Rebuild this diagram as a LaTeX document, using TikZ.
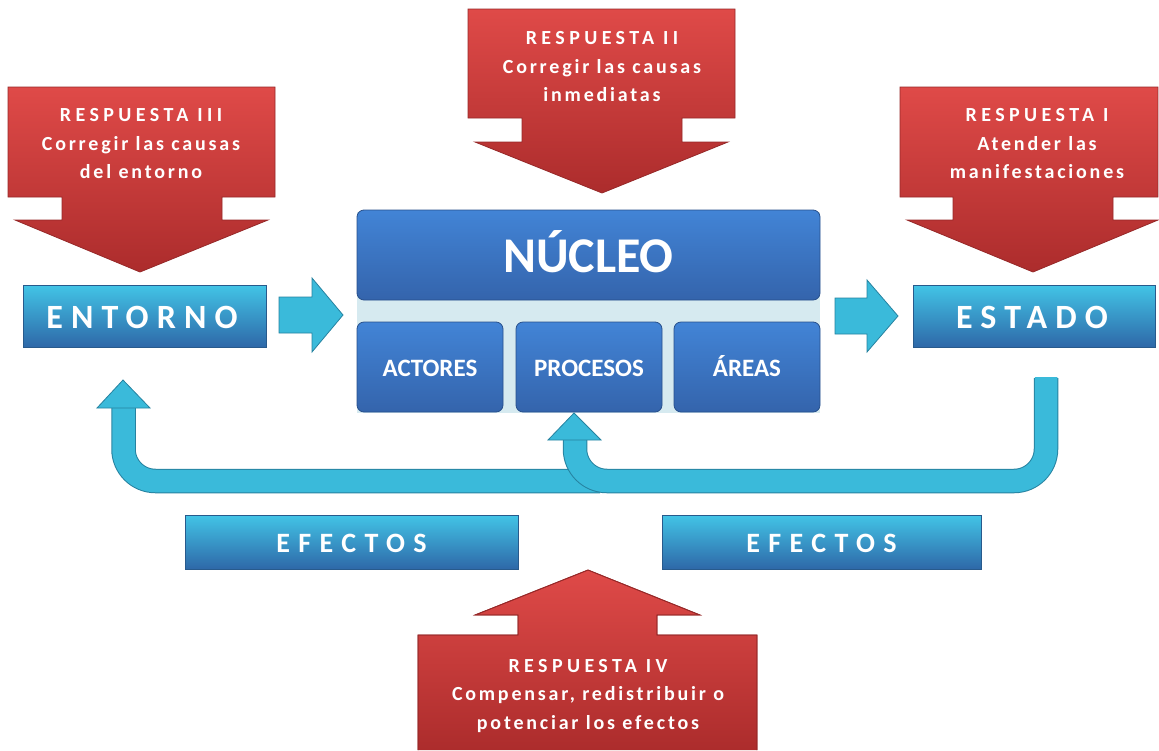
\documentclass[tikz,border=0pt]{standalone}
\usepackage{fontspec}
\setmainfont{Carlito}
\usetikzlibrary{calc}
\definecolor{redTop}{RGB}{223,74,72}
\definecolor{redBot}{RGB}{172,44,44}
\definecolor{redEdge}{RGB}{150,40,40}
\definecolor{cyTop}{RGB}{66,196,230}
\definecolor{cyBot}{RGB}{46,104,168}
\definecolor{cyEdge}{RGB}{40,90,140}
\definecolor{blTop}{RGB}{66,132,214}
\definecolor{blBot}{RGB}{52,100,172}
\definecolor{blEdge}{RGB}{40,80,140}
\definecolor{nucBg}{RGB}{214,234,240}
\definecolor{arrCy}{RGB}{58,186,218}
\definecolor{arrEdge}{RGB}{38,130,160}
\tikzset{
  callout/.style={top color=redTop, bottom color=redBot, draw=redEdge, line width=0.8pt},
  calltext/.style={text=white, font=\fontsize{20}{28.5}\selectfont\bfseries\addfontfeature{LetterSpace=14}, align=center},
  cybox/.style={top color=cyTop, bottom color=cyBot, draw=cyEdge, line width=0.8pt},
  blbox/.style={top color=blTop, bottom color=blBot, draw=blEdge, line width=0.8pt, rounded corners=7pt},
  boxtext/.style={text=white, font=\bfseries},
  blockarrow/.style={fill=arrCy, draw=arrEdge, line width=0.8pt},
  fbedge/.style={line width=24.5pt, draw=arrEdge, rounded corners=32pt},
  feedback/.style={line width=22.5pt, draw=arrCy, rounded corners=32pt},
}
\begin{document}
\begin{tikzpicture}[x=1pt,y=-1pt]
\useasboundingbox (0,0) rectangle (1159,750);

% ---------- Callouts ----------
\path[callout] (8,87) -- (275,87) -- (275,197) -- (222,197) -- (222,220) -- (268,220) -- (140,272) -- (15,220) -- (62,220) -- (62,197) -- (8,197) -- cycle;
\node[calltext] (r3) at (141,144) {{\addfontfeature{LetterSpace=22}RESPUESTA III}\\Corregir las causas\\del entorno};

\path[callout] (468,9) -- (735,9) -- (735,118) -- (682,118) -- (682,142) -- (728,142) -- (602,193) -- (475,142) -- (522,142) -- (522,118) -- (468,118) -- cycle;
\node[calltext] (r2) at (602,67) {{\addfontfeature{LetterSpace=22}RESPUESTA II}\\Corregir las causas\\inmediatas};

\path[callout] (900,87) -- (1158,87) -- (1158,197) -- (1113,197) -- (1113,220) -- (1158,220) -- (1033,272) -- (907,220) -- (953,220) -- (953,197) -- (900,197) -- cycle;
\node[calltext] (r1) at (1037,144) {{\addfontfeature{LetterSpace=22}RESPUESTA I}\\Atender las\\manifestaciones};

\path[callout] (418,750) -- (418,635) -- (518,635) -- (518,615) -- (475,615) -- (588,570) -- (700,615) -- (657,615) -- (657,635) -- (757,635) -- (757,750);
\draw[redEdge, line width=0.8pt] (418,750) -- (418,635) -- (518,635) -- (518,615) -- (475,615) -- (588,570) -- (700,615) -- (657,615) -- (657,635) -- (757,635) -- (757,750);
\node[calltext] (r4) at (588,696) {{\addfontfeature{LetterSpace=22}RESPUESTA IV}\\Compensar, redistribuir o\\potenciar los efectos};

% ---------- Núcleo ----------
\fill[nucBg] (357,212) rectangle (820,413);
\path[blbox] (357,210) rectangle (820,300);
\node[boxtext, font=\fontsize{50}{50}\selectfont\bfseries, anchor=base] (nucleo) at (588.5,272) {NÚCLEO};
\path[blbox] (357,322) rectangle (503,412);
\node[boxtext, font=\fontsize{25}{25}\selectfont\bfseries, anchor=base] (actores) at (430,376) {ACTORES};
\path[blbox] (516,322) rectangle (662,412);
\node[boxtext, font=\fontsize{25}{25}\selectfont\bfseries, anchor=base] (procesos) at (589,376) {PROCESOS};
\path[blbox] (674,322) rectangle (820,412);
\node[boxtext, font=\fontsize{25}{25}\selectfont\bfseries, anchor=base] (areas) at (747,376) {ÁREAS};

% ---------- Entorno / Estado ----------
\path[cybox] (23,285) rectangle (266,347);
\node[boxtext, font=\fontsize{34}{34}\selectfont\bfseries\addfontfeature{LetterSpace=24}] (entorno) at (142,317) {ENTORNO};
\path[cybox] (913,285) rectangle (1155,347);
\node[boxtext, font=\fontsize{34}{34}\selectfont\bfseries\addfontfeature{LetterSpace=24}] (estado) at (1032,317) {ESTADO};

% ---------- Efectos ----------
\path[cybox] (185,515) rectangle (518,569);
\node[boxtext, font=\fontsize{28}{28}\selectfont\bfseries\addfontfeature{LetterSpace=30}] (ef1) at (351.5,543) {EFECTOS};
\path[cybox] (662,515) rectangle (981,569);
\node[boxtext, font=\fontsize{28}{28}\selectfont\bfseries\addfontfeature{LetterSpace=30}] (ef2) at (821.5,543) {EFECTOS};

% ---------- Block arrows ----------
\path[blockarrow] (279,297) -- (312,297) -- (312,278) -- (343,315) -- (312,352) -- (312,333) -- (279,333) -- cycle;
\path[blockarrow] (835,298) -- (867,298) -- (867,280) -- (898,316) -- (867,352) -- (867,334) -- (835,334) -- cycle;

% ---------- Feedback arrows ----------
\coordinate (fbStart) at (1046,378);
\coordinate (fbLeftStart) at (600,481);
\draw[fbedge] (fbLeftStart) -- (123.5,481) -- (123.5,405);
\draw[feedback] (fbLeftStart) -- (123.5,481) -- (123.5,404);
\path[blockarrow] (97,408) -- (150,408) -- (123,380) -- cycle;
\draw[fbedge] (fbStart) -- (1046,481) -- (575,481) -- (575,437);
\draw[feedback] ([yshift=0.8pt]fbStart) -- (1046,481) -- (575,481) -- (575,436);
\path[blockarrow] (548,440) -- (601,440) -- (574,413) -- cycle;
\end{tikzpicture}
\end{document}
